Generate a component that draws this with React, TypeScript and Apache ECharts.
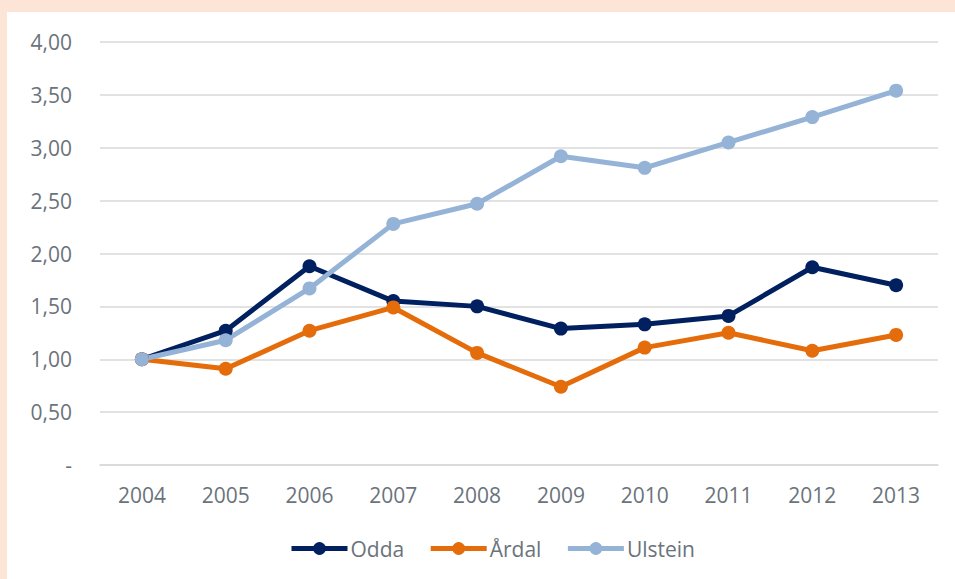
import React, { useEffect, useRef } from "react";
import * as echarts from "echarts";

const years = ["2004", "2005", "2006", "2007", "2008", "2009", "2010", "2011", "2012", "2013"];
const odda = [1.0, 1.27, 1.88, 1.55, 1.5, 1.29, 1.33, 1.41, 1.87, 1.7];
const ardal = [1.0, 0.91, 1.27, 1.49, 1.06, 0.74, 1.11, 1.25, 1.08, 1.23];
const ulstein = [1.0, 1.18, 1.67, 2.28, 2.47, 2.92, 2.81, 3.05, 3.29, 3.54];

const FONT = "'Open Sans', sans-serif";
const LABEL = "#6B737B";

export default function App() {
  const ref = useRef<HTMLDivElement>(null);
  useEffect(() => {
    if (!ref.current) return;
    const chart = echarts.init(ref.current, undefined, { renderer: "svg" });
    const mk = (name: string, data: number[], color: string) => ({
      name,
      type: "line",
      data,
      symbol: "circle",
      symbolSize: 14,
      lineStyle: { width: 5, color },
      itemStyle: { color },
    });
    chart.setOption({
      animation: false,
      backgroundColor: "#FFFFFF",
      textStyle: { fontFamily: FONT },
      grid: { left: 93, right: 17, top: 30, bottom: 114, containLabel: false },
      legend: {
        bottom: 15,
        left: 277,
        itemWidth: 56,
        itemHeight: 16,
        itemGap: 24,
        lineStyle: { width: 5 },
        textStyle: { color: LABEL, fontSize: 21, fontFamily: FONT, padding: [0, 0, 0, -2] },
        data: ["Odda", "Årdal", "Ulstein"],
      },
      xAxis: {
        type: "category",
        data: years,
        boundaryGap: true,
        axisLine: { lineStyle: { color: "#D9D9D9", width: 1.5 } },
        axisTick: { show: false },
        axisLabel: { color: LABEL, fontSize: 21, margin: 19, fontFamily: FONT },
      },
      yAxis: {
        type: "value",
        min: 0,
        max: 4,
        interval: 0.5,
        axisLine: { show: false },
        axisTick: { show: false },
        splitLine: { lineStyle: { color: "#D9D9D9", width: 1.5 } },
        axisLabel: {
          color: LABEL,
          fontSize: 21,
          margin: 28,
          fontFamily: FONT,
          formatter: (v: number) => (v === 0 ? "-" : v.toFixed(2).replace(".", ",")),
        },
      },
      series: [
        mk("Odda", odda, "#002060"),
        mk("Årdal", ardal, "#E46C0A"),
        mk("Ulstein", ulstein, "#95B3D7"),
      ],
    });
    return () => chart.dispose();
  }, []);
  return (
    <div style={{ position: "fixed", left: 0, top: 0, width: 955, height: 579, background: "#FCE4D6" }}>
      <div
        ref={ref}
        style={{ position: "absolute", left: 7, top: 12, width: 948, height: 567, background: "#FFFFFF" }}
      />
    </div>
  );
}
